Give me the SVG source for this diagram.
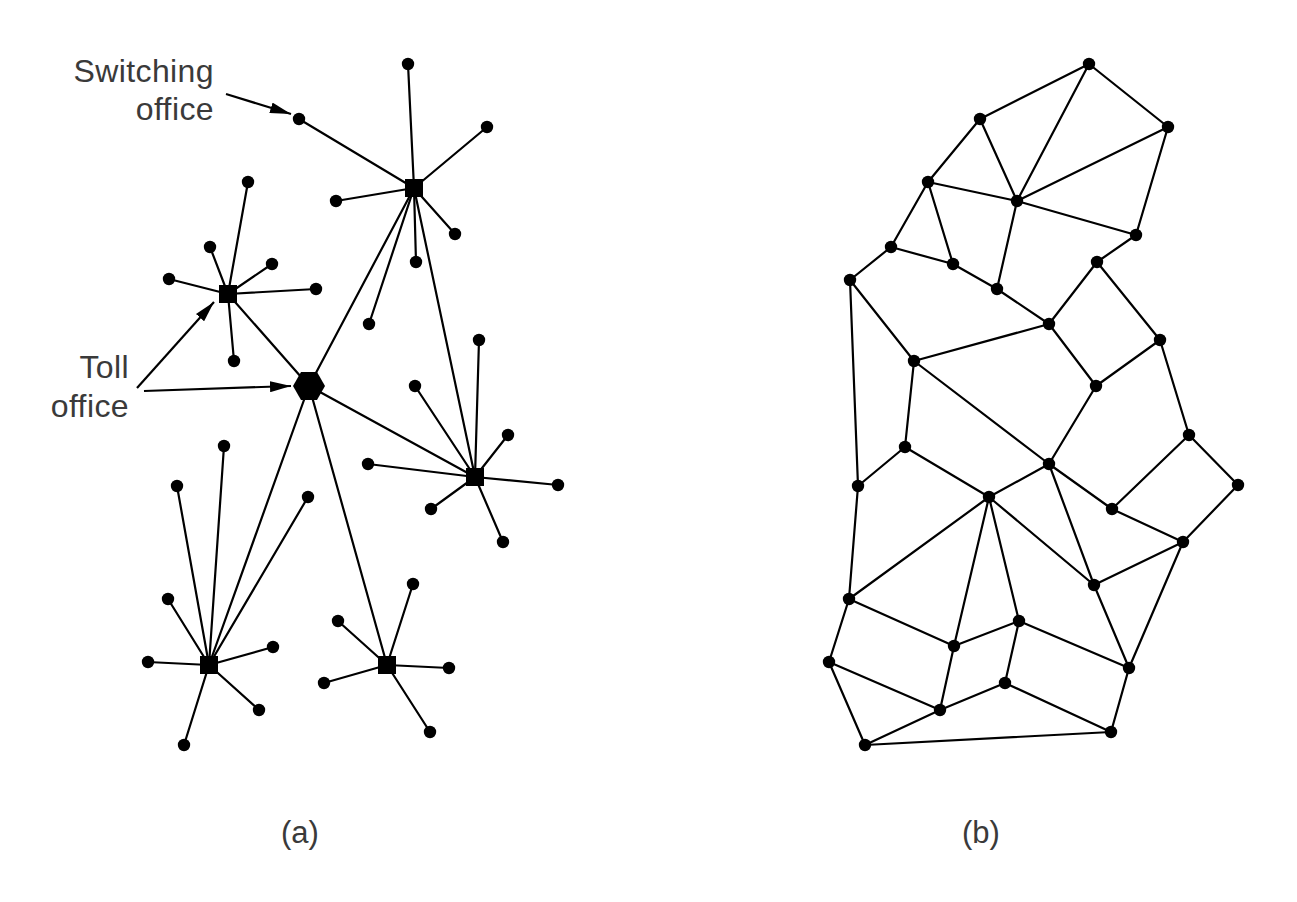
<svg xmlns="http://www.w3.org/2000/svg" width="1297" height="902" viewBox="0 0 1297 902">
<style>
.e line{stroke:#000;stroke-width:2.2;stroke-linecap:round}
.d circle{fill:#000}
.lbl{font-family:"Liberation Sans",Arial,Helvetica,sans-serif;font-size:32px;fill:#3a3a3a}
.arr{stroke:#000;stroke-width:2.2;fill:none}
</style>
<defs>
<marker id="ah" markerWidth="21" markerHeight="11" viewBox="0 0 21 11" refX="21" refY="5.5" orient="auto" markerUnits="userSpaceOnUse">
<path d="M0,0 L21,5.5 L0,11 Z" fill="#000"/>
</marker>
</defs>
<rect width="1297" height="902" fill="#fff"/>
<!-- connectors (a) -->
<g id="connectors-a" class="e">
<line x1="414" y1="188" x2="408" y2="64"/>
<line x1="414" y1="188" x2="487" y2="127"/>
<line x1="414" y1="188" x2="336" y2="201"/>
<line x1="414" y1="188" x2="455" y2="234"/>
<line x1="414" y1="188" x2="416" y2="262"/>
<line x1="414" y1="188" x2="369" y2="324"/>
<line x1="414" y1="188" x2="299" y2="119"/>
<line x1="414" y1="188" x2="309" y2="386"/>
<line x1="414" y1="188" x2="475" y2="477"/>
<line x1="228" y1="294" x2="248" y2="182"/>
<line x1="228" y1="294" x2="210" y2="247"/>
<line x1="228" y1="294" x2="272" y2="264"/>
<line x1="228" y1="294" x2="169" y2="279"/>
<line x1="228" y1="294" x2="316" y2="289"/>
<line x1="228" y1="294" x2="234" y2="361"/>
<line x1="228" y1="294" x2="309" y2="386"/>
<line x1="475" y1="477" x2="479" y2="340"/>
<line x1="475" y1="477" x2="415" y2="386"/>
<line x1="475" y1="477" x2="508" y2="435"/>
<line x1="475" y1="477" x2="368" y2="464"/>
<line x1="475" y1="477" x2="558" y2="485"/>
<line x1="475" y1="477" x2="431" y2="509"/>
<line x1="475" y1="477" x2="503" y2="542"/>
<line x1="475" y1="477" x2="309" y2="386"/>
<line x1="209" y1="665" x2="177" y2="486"/>
<line x1="209" y1="665" x2="224" y2="446"/>
<line x1="209" y1="665" x2="309" y2="386"/>
<line x1="209" y1="665" x2="308" y2="497"/>
<line x1="209" y1="665" x2="168" y2="599"/>
<line x1="209" y1="665" x2="148" y2="662"/>
<line x1="209" y1="665" x2="273" y2="647"/>
<line x1="209" y1="665" x2="259" y2="710"/>
<line x1="209" y1="665" x2="184" y2="745"/>
<line x1="387" y1="665" x2="309" y2="386"/>
<line x1="387" y1="665" x2="338" y2="621"/>
<line x1="387" y1="665" x2="413" y2="584"/>
<line x1="387" y1="665" x2="449" y2="668"/>
<line x1="387" y1="665" x2="324" y2="683"/>
<line x1="387" y1="665" x2="430" y2="732"/>
</g>
<!-- annotation arrows -->
<g id="annotation-arrows">
<line class="arr" x1="226" y1="94" x2="291" y2="114" marker-end="url(#ah)"/>
<line class="arr" x1="137" y1="388" x2="214" y2="302" marker-end="url(#ah)"/>
<line class="arr" x1="144" y1="391" x2="291" y2="386" marker-end="url(#ah)"/>
</g>
<!-- nodes (a) -->
<g id="hubs-a" fill="#000">
<rect id="hub1" x="405" y="179" width="18" height="18"/>
<rect id="hub2" x="219" y="285" width="18" height="18"/>
<rect id="hub3" x="466" y="468" width="18" height="18"/>
<rect id="hub4" x="200" y="656" width="18" height="18"/>
<rect id="hub5" x="378" y="656" width="18" height="18"/>
<polygon id="toll" points="293,386 301,372 317,372 325,386 317,400 301,400"/>
</g>
<g id="dots-a" class="d">
<circle cx="408" cy="64" r="6.2"/><circle cx="487" cy="127" r="6.2"/><circle cx="336" cy="201" r="6.2"/>
<circle cx="455" cy="234" r="6.2"/><circle cx="416" cy="262" r="6.2"/><circle cx="369" cy="324" r="6.2"/>
<circle id="switching" cx="299" cy="119" r="6.2"/>
<circle cx="248" cy="182" r="6.2"/><circle cx="210" cy="247" r="6.2"/><circle cx="272" cy="264" r="6.2"/>
<circle cx="169" cy="279" r="6.2"/><circle cx="316" cy="289" r="6.2"/><circle cx="234" cy="361" r="6.2"/>
<circle cx="479" cy="340" r="6.2"/><circle cx="415" cy="386" r="6.2"/><circle cx="508" cy="435" r="6.2"/>
<circle cx="368" cy="464" r="6.2"/><circle cx="558" cy="485" r="6.2"/><circle cx="431" cy="509" r="6.2"/>
<circle cx="503" cy="542" r="6.2"/>
<circle cx="177" cy="486" r="6.2"/><circle cx="224" cy="446" r="6.2"/><circle cx="308" cy="497" r="6.2"/>
<circle cx="168" cy="599" r="6.2"/><circle cx="148" cy="662" r="6.2"/><circle cx="273" cy="647" r="6.2"/>
<circle cx="259" cy="710" r="6.2"/><circle cx="184" cy="745" r="6.2"/>
<circle cx="338" cy="621" r="6.2"/><circle cx="413" cy="584" r="6.2"/><circle cx="449" cy="668" r="6.2"/>
<circle cx="324" cy="683" r="6.2"/><circle cx="430" cy="732" r="6.2"/>
</g>
<g id="labels-a" class="lbl" text-anchor="end">
<text x="214" y="82" letter-spacing="0.4">Switching</text>
<text x="214" y="120" letter-spacing="0.4">office</text>
<text x="129" y="378" letter-spacing="0.4">Toll</text>
<text x="129" y="417" letter-spacing="0.4">office</text>
</g>
<!-- connectors (b) -->
<g id="connectors-b" class="e">
<line x1="1089" y1="64" x2="980" y2="119"/>
<line x1="1089" y1="64" x2="1017" y2="201"/>
<line x1="1089" y1="64" x2="1168" y2="127"/>
<line x1="980" y1="119" x2="928" y2="182"/>
<line x1="980" y1="119" x2="1017" y2="201"/>
<line x1="1168" y1="127" x2="1017" y2="201"/>
<line x1="1168" y1="127" x2="1136" y2="235"/>
<line x1="928" y1="182" x2="1017" y2="201"/>
<line x1="928" y1="182" x2="891" y2="247"/>
<line x1="928" y1="182" x2="953" y2="264"/>
<line x1="1017" y1="201" x2="1136" y2="235"/>
<line x1="1017" y1="201" x2="997" y2="289"/>
<line x1="891" y1="247" x2="953" y2="264"/>
<line x1="891" y1="247" x2="850" y2="280"/>
<line x1="953" y1="264" x2="997" y2="289"/>
<line x1="1136" y1="235" x2="1097" y2="262"/>
<line x1="997" y1="289" x2="1049" y2="324"/>
<line x1="1097" y1="262" x2="1049" y2="324"/>
<line x1="1097" y1="262" x2="1160" y2="340"/>
<line x1="850" y1="280" x2="858" y2="486"/>
<line x1="850" y1="280" x2="914" y2="361"/>
<line x1="1049" y1="324" x2="914" y2="361"/>
<line x1="1049" y1="324" x2="1096" y2="386"/>
<line x1="1160" y1="340" x2="1096" y2="386"/>
<line x1="1160" y1="340" x2="1189" y2="435"/>
<line x1="914" y1="361" x2="905" y2="447"/>
<line x1="914" y1="361" x2="1049" y2="464"/>
<line x1="1096" y1="386" x2="1049" y2="464"/>
<line x1="905" y1="447" x2="858" y2="486"/>
<line x1="905" y1="447" x2="989" y2="497"/>
<line x1="1049" y1="464" x2="989" y2="497"/>
<line x1="1049" y1="464" x2="1112" y2="509"/>
<line x1="1049" y1="464" x2="1094" y2="585"/>
<line x1="1189" y1="435" x2="1112" y2="509"/>
<line x1="1189" y1="435" x2="1238" y2="485"/>
<line x1="1238" y1="485" x2="1183" y2="542"/>
<line x1="1112" y1="509" x2="1183" y2="542"/>
<line x1="858" y1="486" x2="849" y2="599"/>
<line x1="989" y1="497" x2="849" y2="599"/>
<line x1="989" y1="497" x2="954" y2="646"/>
<line x1="989" y1="497" x2="1019" y2="621"/>
<line x1="989" y1="497" x2="1094" y2="585"/>
<line x1="1183" y1="542" x2="1094" y2="585"/>
<line x1="1183" y1="542" x2="1129" y2="668"/>
<line x1="1094" y1="585" x2="1129" y2="668"/>
<line x1="849" y1="599" x2="954" y2="646"/>
<line x1="849" y1="599" x2="829" y2="662"/>
<line x1="954" y1="646" x2="1019" y2="621"/>
<line x1="954" y1="646" x2="940" y2="710"/>
<line x1="1019" y1="621" x2="1005" y2="683"/>
<line x1="1019" y1="621" x2="1129" y2="668"/>
<line x1="829" y1="662" x2="940" y2="710"/>
<line x1="829" y1="662" x2="865" y2="745"/>
<line x1="940" y1="710" x2="1005" y2="683"/>
<line x1="940" y1="710" x2="865" y2="745"/>
<line x1="1005" y1="683" x2="1111" y2="732"/>
<line x1="1129" y1="668" x2="1111" y2="732"/>
<line x1="865" y1="745" x2="1111" y2="732"/>
</g>
<g id="nodes-b" class="d">
<circle cx="1089" cy="64" r="6.2"/><circle cx="980" cy="119" r="6.2"/><circle cx="1168" cy="127" r="6.2"/>
<circle cx="928" cy="182" r="6.2"/><circle cx="1017" cy="201" r="6.2"/><circle cx="891" cy="247" r="6.2"/>
<circle cx="953" cy="264" r="6.2"/><circle cx="997" cy="289" r="6.2"/><circle cx="1136" cy="235" r="6.2"/>
<circle cx="1097" cy="262" r="6.2"/><circle cx="850" cy="280" r="6.2"/><circle cx="1049" cy="324" r="6.2"/>
<circle cx="914" cy="361" r="6.2"/><circle cx="1160" cy="340" r="6.2"/><circle cx="1096" cy="386" r="6.2"/>
<circle cx="905" cy="447" r="6.2"/><circle cx="1189" cy="435" r="6.2"/><circle cx="858" cy="486" r="6.2"/>
<circle cx="1049" cy="464" r="6.2"/><circle cx="989" cy="497" r="6.2"/><circle cx="1238" cy="485" r="6.2"/>
<circle cx="1112" cy="509" r="6.2"/><circle cx="1183" cy="542" r="6.2"/><circle cx="849" cy="599" r="6.2"/>
<circle cx="1094" cy="585" r="6.2"/><circle cx="1019" cy="621" r="6.2"/><circle cx="954" cy="646" r="6.2"/>
<circle cx="829" cy="662" r="6.2"/><circle cx="1129" cy="668" r="6.2"/><circle cx="1005" cy="683" r="6.2"/>
<circle cx="940" cy="710" r="6.2"/><circle cx="1111" cy="732" r="6.2"/><circle cx="865" cy="745" r="6.2"/>
</g>
<g id="captions" class="lbl" text-anchor="middle">
<text x="300" y="843" font-size="31">(a)</text>
<text x="981" y="843" font-size="31">(b)</text>
</g>
</svg>
